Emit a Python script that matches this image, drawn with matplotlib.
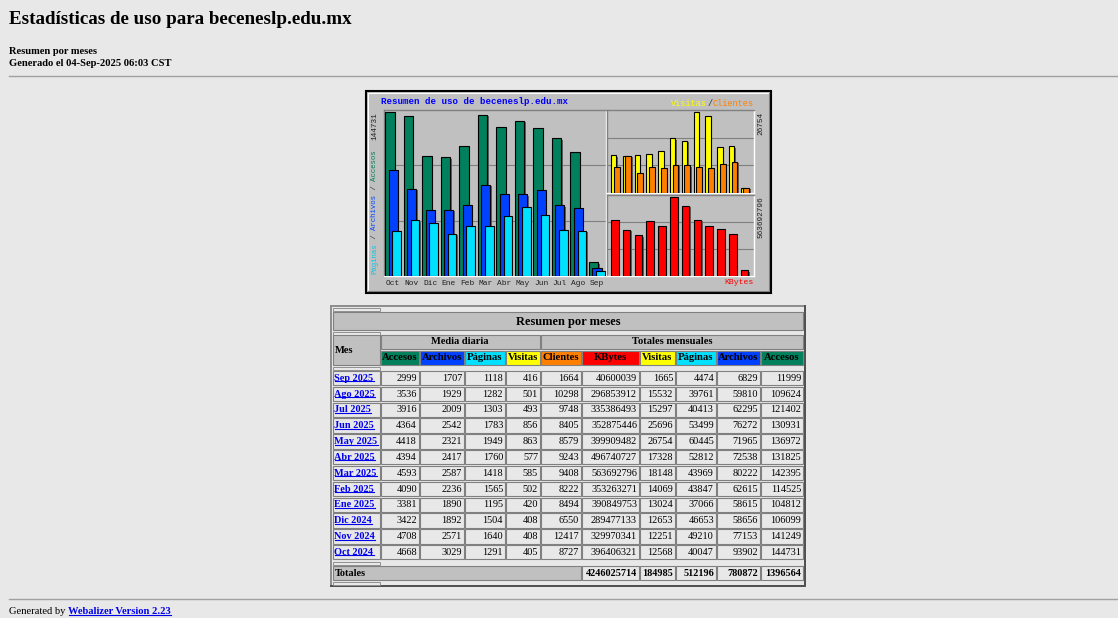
import matplotlib
matplotlib.use("Agg")
import matplotlib.pyplot as plt
from matplotlib.patches import Rectangle
import matplotlib.patheffects as pe

# Datos de la tabla (orden de la tabla: Sep 2025 -> Oct 2024)
meses = ["Sep 2025", "Ago 2025", "Jul 2025", "Jun 2025", "May 2025", "Abr 2025",
         "Mar 2025", "Feb 2025", "Ene 2025", "Dic 2024", "Nov 2024", "Oct 2024"]
acc_dia = [2999, 3536, 3916, 4364, 4418, 4394, 4593, 4090, 3381, 3422, 4708, 4668]
arc_dia = [1707, 1929, 2009, 2542, 2321, 2417, 2587, 2236, 1890, 1892, 2571, 3029]
pag_dia = [1118, 1282, 1303, 1783, 1949, 1760, 1418, 1565, 1195, 1504, 1640, 1291]
vis_dia = [416, 501, 493, 856, 863, 577, 585, 502, 420, 408, 408, 405]
clientes = [1664, 10298, 9748, 8405, 8579, 9243, 9408, 8222, 8494, 6550, 12417, 8727]
kbytes = [40600039, 296853912, 335386493, 352875446, 399909482, 496740727,
          563692796, 353263271, 390849753, 289477133, 329970341, 396406321]
visitas = [1665, 15532, 15297, 25696, 26754, 17328, 18148, 14069, 13024, 12653, 12251, 12568]
paginas = [4474, 39761, 40413, 53499, 60445, 52812, 43969, 43847, 37066, 46653, 49210, 40047]
archivos = [6829, 59810, 62295, 76272, 71965, 72538, 80222, 62615, 58615, 58656, 77153, 93902]
accesos = [11999, 109624, 121402, 130931, 136972, 131825, 142395, 114525, 104812, 106099, 141249, 144731]
totales = [4246025714, 184985, 512196, 780872, 1396564]

etiquetas_graf = ["Oct", "Nov", "Dic", "Ene", "Feb", "Mar", "Abr", "May", "Jun", "Jul", "Ago", "Sep"]

cabeceras = ["Accesos", "Archivos", "Páginas", "Visitas", "Clientes", "KBytes",
             "Visitas", "Páginas", "Archivos", "Accesos"]

# colores de webalizer
C_ACC = "#00805c"
C_ARC = "#0040ff"
C_PAG = "#00e0ff"
C_VIS = "#ffff00"
C_CLI = "#ff8000"
C_KB = "#ff0000"
col_cab = [C_ACC, C_ARC, C_PAG, C_VIS, C_CLI, C_KB, C_VIS, C_PAG, C_ARC, C_ACC]

BG = "#e8e8e8"
GRIS = "#c0c0c0"
SERIF = "Liberation Serif"
MONO = "Liberation Mono"
W, H = 1118, 618

fig = plt.figure(figsize=(W / 100, H / 100), dpi=100, facecolor=BG)
pg = fig.add_axes([0, 0, 1, 1])
pg.set_xlim(0, W)
pg.set_ylim(H, 0)
pg.axis("off")


def px(x0, y0, x1, y1):
    return [x0 / W, 1 - y1 / H, (x1 - x0) / W, (y1 - y0) / H]


def caja(x0, y0, x1, y1, fc="none", ec="#808080", lw=0.8, z=2):
    pg.add_patch(Rectangle((x0, y0), x1 - x0, y1 - y0, facecolor=fc,
                           edgecolor=ec, lw=lw, zorder=z))


# Encabezado de la pagina
pg.text(9, 20, "Estadísticas de uso para beceneslp.edu.mx", family=SERIF,
        weight="bold", fontsize=13.7, va="center", ha="left")
pg.text(9, 52, "Resumen por meses", family=SERIF, weight="bold", fontsize=7.6, va="center")
pg.text(9, 64, "Generado el 04-Sep-2025 06:03 CST", family=SERIF, weight="bold",
        fontsize=7.6, va="center")
pg.plot([9, W], [76, 76], color="#a0a0a0", lw=1)
pg.plot([9, W], [599, 599], color="#a0a0a0", lw=1)
pg.text(9, 612, "Generated by ", family=SERIF, fontsize=7.6, va="center")
links = []
links.append(pg.text(68.5, 612, "Webalizer Version 2.23", family=SERIF, weight="bold",
                     fontsize=7.6, va="center", color="#0000ee"))

# ---------------- grafico ----------------
caja(365.5, 90.5, 770.5, 292.5, fc=GRIS, ec="black", lw=1.5, z=1)
pg.plot([367.5, 367.5, 768.5], [290.5, 92.5, 92.5], color="white", lw=0.8, zorder=1)
pg.plot([367.5, 768.5, 768.5], [290.5, 290.5, 92.5], color="#808080", lw=0.8, zorder=1)

sombra = [pe.SimplePatchShadow(offset=(1.0, -1.0), shadow_rgbFace="#606060", alpha=1), pe.Normal()]


def panel(rect):
    ax = fig.add_axes(px(*rect))
    ax.set_facecolor(GRIS)
    ax.set_xticks([])
    ax.set_yticks([])
    for s in ("left", "top"):
        ax.spines[s].set_color("#808080")
    for s in ("right", "bottom"):
        ax.spines[s].set_color("white")
    for s in ax.spines.values():
        s.set_linewidth(1.0)
    return ax


def rejilla(ax, top):
    for f in (1 / 3, 2 / 3):
        ax.axhline(f * top, color="#808080", lw=0.8, zorder=1)


idx = list(range(12))
acc_g = accesos[::-1]
arc_g = archivos[::-1]
pag_g = paginas[::-1]
vis_g = visitas[::-1]
cli_g = clientes[::-1]
kb_g = kbytes[::-1]

ax1 = panel((384, 110, 606, 276))
top1 = max(acc_g) * 1.012
ax1.set_xlim(-0.06, 11.92)
ax1.set_ylim(0, top1)
rejilla(ax1, top1)
for vals, off, w, c in ((acc_g, 0.0, 0.51, C_ACC), (arc_g, 0.19, 0.49, C_ARC),
                        (pag_g, 0.39, 0.46, C_PAG)):
    bars = ax1.bar([i + off for i in idx], vals, width=w, align="edge", color=c,
                   edgecolor="black", lw=0.8, zorder=3)
    for b in bars:
        b.set_path_effects(sombra)
for i, lab in enumerate(etiquetas_graf):
    ax1.text(i + 0.43, -0.045, lab, transform=ax1.get_xaxis_transform(), family=MONO,
             fontsize=5.7, ha="center", va="center", color="#202020", clip_on=False)

ax2 = panel((607, 110, 754, 193))
top2 = max(vis_g) * 1.03
ax2.set_xlim(-0.34, 12.12)
ax2.set_ylim(0, top2)
rejilla(ax2, top2)
for vals, off, w, c in ((vis_g, 0.0, 0.46, C_VIS), (cli_g, 0.22, 0.5, C_CLI)):
    bars = ax2.bar([i + off for i in idx], vals, width=w, align="edge", color=c,
                   edgecolor="black", lw=0.8, zorder=3)
    for b in bars:
        b.set_path_effects(sombra)

ax3 = panel((607, 195, 754, 276))
top3 = max(kb_g) * 1.02
ax3.set_xlim(-0.34, 12.12)
ax3.set_ylim(0, top3)
rejilla(ax3, top3)
bars = ax3.bar(idx, kb_g, width=0.64, align="edge", color=C_KB, edgecolor="black",
               lw=0.8, zorder=3)
for b in bars:
    b.set_path_effects(sombra)

# textos del grafico
FS = 5.6
cw = 0.6 * FS * 100 / 72
pg.text(381, 102, "Resumen de uso de beceneslp.edu.mx", family=MONO, weight="bold",
        fontsize=6.6, color="#0000ff", va="center", ha="left", zorder=5)
# Visitas/Clientes alineado a la derecha
FS2 = 6.2
cw2 = 0.6 * FS2 * 100 / 72
partes = [("Visitas", C_VIS), ("/", "#303030"), ("Clientes", C_CLI)]
n_tot = sum(len(s) for s, _ in partes)
x = 754 - n_tot * cw2
for s, c in partes:
    pg.text(x, 104, s, family=MONO, fontsize=FS2, color=c, ha="left", va="center", zorder=5)
    x += len(s) * cw2
pg.text(754, 283, "KBytes", family=MONO, fontsize=5.9, color=C_KB, ha="right",
        va="center", zorder=5)

# etiquetas verticales
pg.text(374.5, 112, str(max(acc_g)), family=MONO, fontsize=FS, rotation=90,
        ha="center", va="top", color="#202020", zorder=5)
partes_v = [("Páginas", "#00c8e8"), (" / ", "#303030"), ("Archivos", C_ARC),
            (" / ", "#303030"), ("Accesos", C_ACC)]
y = 274
for s, c in partes_v:
    pg.text(374.5, y, s, family=MONO, fontsize=FS * 0.95, rotation=90, ha="center",
            va="bottom", color=c, zorder=5)
    y -= len(s) * cw * 0.95
pg.text(760.5, 112, str(max(vis_g)), family=MONO, fontsize=FS, rotation=90,
        ha="center", va="top", color="#202020", zorder=5)
pg.text(760.5, 196, str(max(kb_g)), family=MONO, fontsize=FS, rotation=90,
        ha="center", va="top", color="#202020", zorder=5)

# ---------------- tabla ----------------
bordes = [333, 381, 420, 465, 506, 541, 582, 640, 676, 717, 761, 804]
caja(331, 306, 805, 586, ec="#808080", lw=1.4)
pg.plot([331, 331, 805], [586, 306, 306], color="#909090", lw=1.4, zorder=2)
pg.plot([331, 805, 805], [586, 586, 306], color="#505050", lw=1.4, zorder=2)


def espaciador(y0):
    caja(333, y0, 380, y0 + 3, ec="#909090", lw=0.7)


espaciador(308)
caja(333, 312, 803, 330, fc=GRIS)
pg.text(568, 321.5, "Resumen por meses", family=SERIF, weight="bold", fontsize=9.0,
        ha="center", va="center")
espaciador(331.5)
caja(333, 335, 380, 365, fc=GRIS)
pg.text(335, 350.5, "Mes", family=SERIF, weight="bold", fontsize=7.6, va="center")
caja(381, 335, 539.5, 349, fc=GRIS)
pg.text(460, 342, "Media diaria", family=SERIF, weight="bold", fontsize=7.6,
        ha="center", va="center")
caja(541, 335, 803, 349, fc=GRIS)
pg.text(672, 342, "Totales mensuales", family=SERIF, weight="bold", fontsize=7.6,
        ha="center", va="center")
for j, (lab, c) in enumerate(zip(cabeceras, col_cab)):
    x0, x1 = bordes[j + 1], bordes[j + 2] - 1
    caja(x0, 350.5, x1, 365, fc=c)
    pg.text((x0 + x1) / 2, 358, lab, family=SERIF, weight="bold", fontsize=7.7,
            ha="center", va="center")
espaciador(366.5)

columnas = [acc_dia, arc_dia, pag_dia, vis_dia, clientes, kbytes, visitas, paginas,
            archivos, accesos]
paso = 15.83
for k, mes in enumerate(meses):
    y0 = 371 + k * paso
    yc = y0 + 7.2
    caja(333, y0, 380, y0 + 14.3)
    links.append(pg.text(334.5, yc, mes, family=SERIF, weight="bold", fontsize=7.4,
                         va="center", color="#0000ee"))
    for j, col in enumerate(columnas):
        x0, x1 = bordes[j + 1], bordes[j + 2] - 1
        caja(x0, y0, x1, y0 + 14.3)
        pg.text(x1 - 2, yc, str(col[k]), family=SERIF, fontsize=7.4, ha="right", va="center")

espaciador(562)
caja(333, 566, 580.5, 580, fc=GRIS)
pg.text(335, 573, "Totales", family=SERIF, weight="bold", fontsize=7.4, va="center")
for j, v in enumerate(totales):
    x0, x1 = bordes[j + 6], bordes[j + 7] - 1
    caja(x0, 566, x1, 580)
    pg.text(x1 - 2, 573, str(v), family=SERIF, weight="bold", fontsize=7.4, ha="right",
            va="center")
espaciador(581.5)

# subrayado de los enlaces
fig.canvas.draw()
r = fig.canvas.get_renderer()
inv = pg.transData.inverted()
for t in links:
    bb = t.get_window_extent(r)
    (xa, ya), (xb, yb) = inv.transform([[bb.x0, bb.y0], [bb.x1, bb.y1]])
    yl = ya - 1.5
    pg.plot([xa, xb], [yl, yl], color="#0000ee", lw=0.8, zorder=3)

fig.savefig("out.png", dpi=100, facecolor=BG)
